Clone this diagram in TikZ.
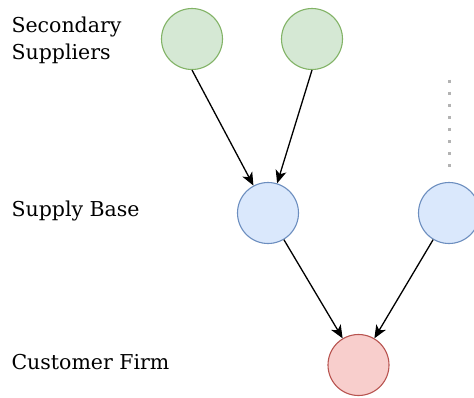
\documentclass[tikz,border=0pt]{standalone}
\usepackage{fontspec}
\setmainfont{DejaVu Serif}
\usetikzlibrary{arrows.meta}
\definecolor{secfill}{HTML}{D5E8D4}
\definecolor{secline}{HTML}{82B366}
\definecolor{basefill}{HTML}{DAE8FC}
\definecolor{baseline}{HTML}{6C8EBF}
\definecolor{firmfill}{HTML}{F8CECC}
\definecolor{firmline}{HTML}{B85450}
\definecolor{dotgray}{HTML}{B3B3B3}
\begin{document}
\begin{tikzpicture}[x=1pt,y=-1pt,
        firm/.style={circle,draw,line width=1.1pt,minimum size=61pt,inner sep=0pt},
        label/.style={anchor=west,align=left,font=\fontsize{20.5}{27}\selectfont},
        link/.style={line width=1.3pt,-{Stealth[length=13pt,width=11pt,inset=3.5pt]}}]
        \useasboundingbox (0,0) rectangle (474,397);
        % tiers
        \node[label] (tsec) at (8,40) {Secondary\\Suppliers};
        \node[label] (tbase) at (8,211) {Supply Base};
        \node[label] (tcust) at (8,362) {Customer Firm};
        % firms
        \node[firm,draw=secline,fill=secfill] (s1) at (192,39) {};
        \node[firm,draw=secline,fill=secfill] (s2) at (312,39) {};
        \node[firm,draw=baseline,fill=basefill] (b1) at (268,213) {};
        \node[firm,draw=baseline,fill=basefill] (b2) at (449,213) {};
        \node[firm,draw=firmline,fill=firmfill] (c) at (358.5,365) {};
        \coordinate (top) at (449,79.5);
        \coordinate (bot) at (449,168);
        % links
        \draw[link] (s1.south) -- (b1);
        \draw[link] (s2.south) -- (b1);
        \draw[link] (b1) -- (c);
        \draw[link] (b2) -- (c);
        \draw[dotgray,line width=3pt,dash pattern=on 3pt off 9.1pt] (top) -- (bot);
    \end{tikzpicture}
\end{document}
